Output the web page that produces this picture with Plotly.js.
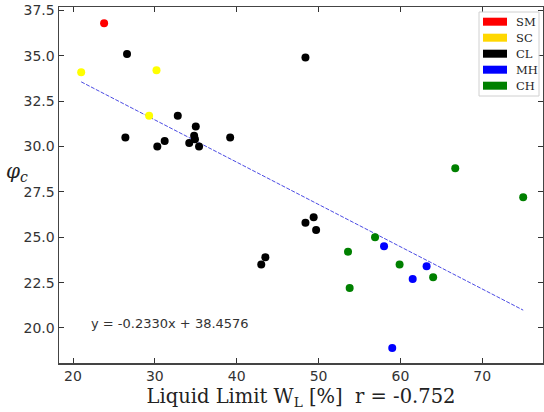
<!DOCTYPE html>
<html>
<head>
<meta charset="utf-8">
<script src="https://cdn.plot.ly/plotly-3.0.1.min.js"></script>
<style>html,body{margin:0;padding:0;background:#fff;} #chart{width:544px;height:412px;}</style>
</head>
<body>
<div id="chart"></div>
<script>
// ---- Data ----
const categories = ['SM', 'SC', 'CL', 'MH', 'CH'];

const smX = [23.8];
const smY = [36.8];

const scX = [21.0, 30.2, 29.3];
const scY = [34.1, 34.2, 31.7];

const clX = [26.6, 26.4, 30.3, 31.2, 32.8, 34.2, 34.8, 34.9, 35.0, 35.4, 39.2, 48.4, 43.0, 43.5, 48.4, 49.4, 49.7];
const clY = [35.1, 30.5, 30.0, 30.3, 31.7, 30.2, 30.6, 30.4, 31.1, 30.0, 30.5, 34.9, 23.5, 23.9, 25.8, 26.1, 25.4];

const mhX = [58.0, 63.2, 61.5, 59.0];
const mhY = [24.5, 23.4, 22.7, 18.9];

const chX = [66.7, 75.0, 56.9, 53.6, 59.9, 64.0, 53.8];
const chY = [28.8, 27.2, 25.0, 24.2, 23.5, 22.8, 22.2];

// regression reported on the chart
const fitSlope = -0.2330;
const fitIntercept = 38.4576;
const fitLabel = 'y = -0.2330x + 38.4576';
const rLabel = 'r = -0.752';

const xTickVals = [20, 30, 40, 50, 60, 70];
const yTickVals = [20.0, 22.5, 25.0, 27.5, 30.0, 32.5, 35.0, 37.5];

// ---- Styles ----
const pointColors = {SM: '#ff0000', SC: '#ffff00', CL: '#000000', MH: '#0000ff', CH: '#008000'};
const legendColors = {SM: '#ff0000', SC: '#ffd700', CL: '#000000', MH: '#0000ff', CH: '#008000'};
const seriesX = {SM: smX, SC: scX, CL: clX, MH: mhX, CH: chX};
const seriesY = {SM: smY, SC: scY, CL: clY, MH: mhY, CH: chY};

const allX = [].concat(smX, scX, clX, mhX, chX);
const xMin = Math.min.apply(null, allX);
const xMax = Math.max.apply(null, allX);

const traces = [];
traces.push({
  x: [xMin, xMax],
  y: [fitSlope * xMin + fitIntercept, fitSlope * xMax + fitIntercept],
  mode: 'lines',
  line: {color: 'rgba(30,30,220,0.8)', width: 1, dash: '4px,1.5px'},
  showlegend: false,
  hoverinfo: 'skip'
});
categories.forEach(function (c) {
  traces.push({
    x: seriesX[c], y: seriesY[c], mode: 'markers', name: c,
    marker: {color: pointColors[c], size: 8, line: {width: 0}},
    showlegend: false
  });
});

// manual legend with wide colour patches
const shapes = [];
const annotations = [];
const legX0 = 479, legX1 = 539, legY0 = 12, legY1 = 96, W = 544, H = 412;
const mL = 59, mR = 1, mT = 7, mB = 49;
function px(x) { return (x - mL) / (W - mL - mR); }
function py(y) { return 1 - (y - mT) / (H - mT - mB); }
shapes.push({type: 'rect', xref: 'paper', yref: 'paper', x0: px(legX0), x1: px(legX1), y0: py(legY1), y1: py(legY0),
  line: {color: '#d0d0d0', width: 1}, fillcolor: 'rgba(255,255,255,0.85)', layer: 'above'});
categories.forEach(function (c, i) {
  const cy = 21.7 + i * 16;
  shapes.push({type: 'rect', xref: 'paper', yref: 'paper', x0: px(483), x1: px(507), y0: py(cy + 4), y1: py(cy - 4),
    line: {width: 0}, fillcolor: legendColors[c], layer: 'above'});
  annotations.push({xref: 'paper', yref: 'paper', x: px(514), y: py(cy), xanchor: 'left', yanchor: 'middle',
    text: c, showarrow: false, font: {family: 'DejaVu Serif', size: 11.5, color: '#222'}});
});

annotations.push({xref: 'x', yref: 'y', x: 21.9, y: 20.25, xanchor: 'left', yanchor: 'middle', text: fitLabel,
  showarrow: false, font: {family: 'DejaVu Sans', size: 13, color: '#333'}});
annotations.push({xref: 'paper', yref: 'paper', x: px(17), y: py(172), xanchor: 'center', yanchor: 'middle',
  text: '<i>φ<sub>c</sub></i>', showarrow: false, font: {family: 'DejaVu Serif', size: 20, color: '#222'}});

const layout = {
  width: W, height: H,
  margin: {l: mL, r: mR, t: mT, b: mB, pad: 0},
  paper_bgcolor: '#fff', plot_bgcolor: '#fff',
  showlegend: false,
  xaxis: {
    range: [18.29, 77.42], tickvals: xTickVals, ticks: 'inside', ticklen: 5, tickwidth: 1, tickcolor: '#333',
    showline: true, linecolor: '#444', linewidth: 1.5, mirror: 'allticks', showgrid: false, zeroline: false,
    tickfont: {family: 'DejaVu Sans', size: 14, color: '#333'},
    title: {text: 'Liquid Limit W<sub>L</sub> [%]  ' + rLabel, font: {family: 'DejaVu Serif', size: 19.5, color: '#222'}, standoff: 6}
  },
  yaxis: {
    range: [18.07, 37.69], tickvals: yTickVals, tickformat: '.1f', ticks: 'inside', ticklen: 5, tickwidth: 1, tickcolor: '#333',
    showline: true, linecolor: '#444', linewidth: 1.5, mirror: 'allticks', showgrid: false, zeroline: false,
    tickfont: {family: 'DejaVu Sans', size: 14, color: '#333'}
  },
  shapes: shapes,
  annotations: annotations
};

Plotly.newPlot('chart', traces, layout, {staticPlot: true, displayModeBar: false});
</script>
</body>
</html>
